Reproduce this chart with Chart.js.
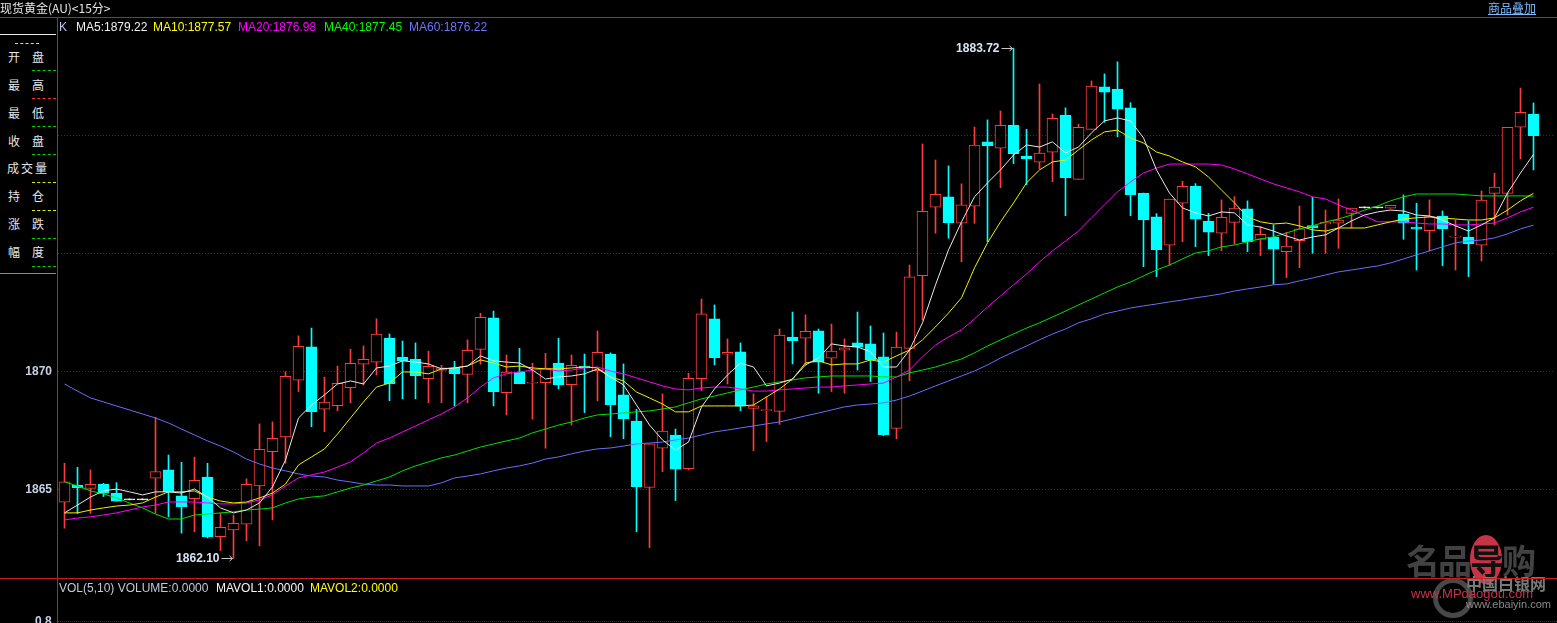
<!DOCTYPE html>
<html><head><meta charset="utf-8">
<script src="https://cdn.jsdelivr.net/npm/chart.js@4.4.1/dist/chart.umd.min.js"></script>
<style>
html,body{margin:0;padding:0;background:#000;}
body{width:1557px;height:623px;position:relative;overflow:hidden;font-family:"Liberation Sans",Arial,sans-serif;}
#c{position:absolute;left:0;top:0;}
.t{position:absolute;white-space:nowrap;font-size:12px;line-height:14px;}
.cjk{font-family:"Noto Sans CJK SC",sans-serif;}
.ln{position:absolute;}
.pc{position:absolute;font-family:"Noto Sans CJK SC",sans-serif;font-size:12px;line-height:14px;color:#e6e6e6;}
.sep{position:absolute;left:32px;width:24px;height:0;border-top:1px dashed;}
</style></head><body>
<canvas id="c" width="1557" height="623"></canvas>

<!-- watermark -->
<div class="t cjk" style="left:1406px;top:540px;font-size:34px;line-height:40px;color:#424242;font-weight:bold;letter-spacing:-2px">名品<span style="color:#111;background:#c83446;border-radius:50%;">导</span>购</div>
<div class="ln" style="left:1433px;top:578px;width:30px;height:30px;border:5px solid #484848;border-radius:50%;"></div>
<div class="t cjk" style="left:1466px;top:574px;font-size:16px;line-height:18px;color:#7a7a7a;font-weight:bold">中国白银网</div>
<div class="t" style="left:1411px;top:587px;font-size:13px;color:#c83446">www.MPdaogou.com</div>
<div class="t" style="left:1466px;top:597px;font-size:11px;color:#8a8a8a">www.ebaiyin.com</div>

<!-- frame lines -->
<div class="ln" style="left:0;top:17px;width:1557px;height:1px;background:#c41e1e"></div>
<div class="ln" style="left:0;top:578px;width:1557px;height:1px;background:#c41e1e"></div>
<div class="ln" style="left:57px;top:17px;width:1px;height:606px;background:#c41e1e"></div>
<div class="ln" style="left:58px;top:621px;width:1499px;height:0;border-top:1px dotted #a00000"></div>

<!-- header -->
<div class="t cjk" style="left:0;top:1px;color:#e6e6e6">现货黄金(AU)&lt;15分&gt;</div>
<div class="t cjk" style="left:1488px;top:1px;color:#7db8ff;text-decoration:underline">商品叠加</div>

<!-- legend -->
<div class="t" style="left:59px;top:20px;color:#c0c8e8">K</div>
<div class="t" style="left:76px;top:20px;color:#f0f0f0">MA5:1879.22</div>
<div class="t" style="left:153px;top:20px;color:#ffff00">MA10:1877.57</div>
<div class="t" style="left:238px;top:20px;color:#ff00ff">MA20:1876.98</div>
<div class="t" style="left:324px;top:20px;color:#00ff00">MA40:1877.45</div>
<div class="t" style="left:409px;top:20px;color:#7272ff">MA60:1876.22</div>

<!-- left info panel -->
<div class="ln" style="left:0;top:34px;width:57px;height:240px;background:#000"></div>
<div class="ln" style="left:0;top:34px;width:56px;height:1px;background:#e8e8e8"></div>
<div class="ln" style="left:15px;top:43px;width:24px;height:0;border-top:1px dashed #e8c8e0"></div>
<div class="ln" style="left:0;top:273px;width:56px;height:1px;background:#8a8a8a"></div>
<div class="pc" style="left:8px;top:50px">开</div><div class="pc" style="left:32px;top:50px">盘</div>
<div class="sep" style="top:70px;border-color:#00d000"></div>
<div class="pc" style="left:8px;top:78px">最</div><div class="pc" style="left:32px;top:78px">高</div>
<div class="sep" style="top:98px;border-color:#ff3030"></div>
<div class="pc" style="left:8px;top:106px">最</div><div class="pc" style="left:32px;top:106px">低</div>
<div class="sep" style="top:126px;border-color:#00d000"></div>
<div class="pc" style="left:8px;top:134px">收</div><div class="pc" style="left:32px;top:134px">盘</div>
<div class="sep" style="top:154px;border-color:#00d000"></div>
<div class="pc" style="left:7px;top:161px">成</div><div class="pc" style="left:21px;top:161px">交</div><div class="pc" style="left:35px;top:161px">量</div>
<div class="sep" style="top:182px;border-color:#e8e800"></div>
<div class="pc" style="left:8px;top:189px">持</div><div class="pc" style="left:32px;top:189px">仓</div>
<div class="sep" style="top:210px;border-color:#e8e800"></div>
<div class="pc" style="left:8px;top:217px">涨</div><div class="pc" style="left:32px;top:217px">跌</div>
<div class="sep" style="top:238px;border-color:#00d000"></div>
<div class="pc" style="left:8px;top:245px">幅</div><div class="pc" style="left:32px;top:245px">度</div>
<div class="sep" style="top:266px;border-color:#00d000"></div>

<!-- volume panel -->
<div class="t" style="left:59px;top:581px;color:#c0c8d8">VOL(5,10) VOLUME:0.0000</div>
<div class="t" style="left:216px;top:581px;color:#f4f4f4">MAVOL1:0.0000</div>
<div class="t" style="left:310px;top:581px;color:#ffff00">MAVOL2:0.0000</div>
<div class="t" style="left:35px;top:614px;color:#c8d0e6;font-weight:bold">0.8</div>

<script>
// ---------- data ----------
const categories = Array.from({length: 115}, (_, i) => (i < 114 ? 'K' + (i + 1) : ''));
const yTicks = [1865, 1870, 1875, 1880];

const opens = [1864.48,1865.21,1865.07,1865.25,1864.86,1864.58,1864.58,1865.50,1865.85,1864.75,
1864.63,1865.55,1863.02,1863.31,1863.55,1865.17,1866.62,1867.25,1869.65,1871.06,
1868.42,1868.57,1869.33,1870.33,1870.41,1871.44,1870.62,1870.54,1869.72,1870.08,
1870.16,1869.90,1870.96,1872.29,1869.12,1869.99,1869.52,1869.55,1870.38,1869.46,
1870.25,1870.06,1870.76,1869.03,1867.92,1865.11,1866.77,1867.33,1865.90,1869.72,
1872.25,1870.75,1870.85,1868.46,1868.36,1868.33,1871.48,1871.43,1871.74,1870.58,
1870.92,1871.23,1871.19,1870.64,1867.61,1871.00,1874.08,1876.98,1877.42,1876.30,
1877.02,1879.75,1879.48,1880.45,1879.15,1878.89,1879.31,1880.88,1878.16,1880.28,
1882.08,1881.99,1881.19,1877.58,1876.57,1875.37,1877.15,1877.87,1876.39,1875.88,
1876.34,1876.91,1875.62,1875.71,1875.10,1875.56,1876.20,1876.27,1876.30,1876.72,
1876.95,1876.95,1876.94,1876.68,1876.14,1875.99,1876.61,1875.71,1875.72,1875.37,
1877.57,1877.57,1880.37,1880.93];

const highs = [1866.13,1865.96,1865.85,1865.28,1865.31,1864.58,1864.58,1868.08,1866.48,1866.17,
1866.39,1866.13,1864.01,1863.94,1865.47,1867.80,1867.88,1870.01,1871.53,1871.86,
1869.78,1870.25,1870.96,1871.10,1872.25,1871.61,1871.31,1871.23,1870.88,1870.28,
1870.45,1871.36,1872.49,1872.58,1870.72,1871.00,1870.37,1870.79,1871.43,1870.72,
1870.76,1871.74,1870.81,1870.34,1868.42,1866.95,1869.07,1867.58,1869.94,1873.09,
1872.84,1871.40,1871.23,1869.07,1868.95,1871.82,1872.54,1872.42,1871.82,1872.03,
1871.40,1872.54,1871.95,1871.65,1871.69,1874.53,1879.66,1878.98,1878.73,1877.97,
1880.38,1880.68,1881.06,1883.72,1880.28,1882.20,1880.93,1881.19,1880.50,1882.33,
1882.63,1883.14,1881.41,1877.58,1876.71,1877.32,1878.08,1877.98,1876.72,1877.29,
1877.43,1877.25,1876.16,1876.23,1875.92,1877.03,1877.40,1876.86,1877.33,1876.94,
1876.95,1876.95,1877.06,1877.50,1877.15,1877.29,1876.82,1876.44,1876.40,1877.67,
1878.42,1880.37,1882.03,1881.40];

const lows = [1863.38,1864.01,1864.01,1864.72,1864.53,1864.58,1864.58,1864.01,1863.87,1863.17,
1863.23,1862.97,1862.43,1862.10,1862.85,1862.63,1863.73,1866.13,1869.17,1867.68,
1867.47,1868.36,1868.70,1869.45,1869.87,1868.78,1868.86,1868.86,1868.70,1868.70,
1868.56,1868.70,1870.33,1868.56,1868.18,1869.50,1868.00,1866.77,1869.28,1867.75,
1868.28,1868.78,1867.26,1867.17,1863.23,1862.56,1865.78,1864.55,1865.85,1869.21,
1870.30,1869.49,1868.36,1866.67,1867.05,1867.78,1870.34,1870.30,1869.10,1869.17,
1869.10,1870.08,1869.59,1867.30,1867.17,1869.63,1872.20,1875.88,1875.67,1874.67,
1876.30,1875.52,1877.81,1878.83,1877.94,1878.61,1878.06,1876.62,1878.16,1880.28,
1880.58,1879.97,1876.62,1874.46,1874.04,1874.52,1875.52,1875.31,1874.93,1875.14,
1875.42,1875.10,1874.93,1873.72,1874.00,1874.42,1875.03,1875.03,1875.24,1876.09,
1876.95,1876.95,1876.94,1875.62,1874.32,1875.14,1874.50,1874.32,1874.04,1874.70,
1876.23,1876.65,1879.03,1878.56];

const closes = [1865.35,1865.10,1865.24,1864.86,1864.53,1864.58,1864.58,1865.78,1864.93,1864.29,
1865.41,1863.02,1863.42,1863.59,1865.24,1866.72,1867.19,1869.82,1871.09,1868.32,
1868.72,1869.52,1870.37,1870.54,1871.60,1869.50,1870.48,1869.84,1870.24,1870.18,
1869.93,1870.92,1872.32,1869.17,1869.99,1869.50,1869.55,1870.16,1869.45,1870.28,
1870.17,1870.83,1868.61,1868.02,1865.14,1866.95,1867.49,1865.88,1869.73,1872.46,
1870.61,1870.83,1868.55,1868.57,1868.38,1871.56,1871.33,1871.72,1870.42,1870.88,
1871.02,1871.05,1870.51,1867.34,1871.05,1874.03,1876.81,1877.53,1876.33,1877.08,
1879.61,1879.59,1880.45,1879.25,1879.04,1879.27,1880.75,1878.23,1880.37,1882.11,
1881.85,1881.13,1877.51,1876.45,1875.18,1877.32,1877.87,1876.47,1875.92,1876.55,
1876.94,1875.52,1875.83,1875.20,1875.33,1876.06,1876.11,1876.34,1876.44,1876.94,
1876.95,1876.95,1877.06,1876.30,1876.05,1876.58,1876.07,1875.72,1875.44,1877.28,
1877.83,1880.37,1881.00,1880.01];

const ma5 = [1864.03,1864.36,1864.70,1864.96,1865.04,1864.92,1864.79,1864.92,1864.92,1864.87,
1865.04,1864.70,1864.24,1864.03,1864.15,1864.45,1865.13,1866.27,1868.05,1868.60,
1869.03,1869.49,1869.62,1869.49,1870.17,1870.25,1870.47,1870.42,1870.34,1870.13,
1870.17,1870.25,1870.68,1870.47,1870.42,1870.38,1870.08,1869.70,1869.79,1869.83,
1869.92,1870.13,1869.79,1869.45,1868.60,1867.75,1867.12,1866.69,1867.03,1868.52,
1869.28,1869.87,1870.38,1870.21,1869.41,1869.53,1869.70,1870.30,1870.59,1871.19,
1871.10,1871.06,1870.85,1870.21,1870.21,1870.93,1872.08,1873.69,1875.17,1876.36,
1877.42,1878.01,1878.56,1879.19,1879.62,1879.53,1879.75,1879.28,1879.53,1880.13,
1880.64,1880.76,1880.64,1879.92,1878.56,1877.58,1876.95,1876.74,1876.61,1876.78,
1876.74,1876.23,1876.14,1875.97,1875.76,1875.59,1875.72,1875.81,1876.10,1876.40,
1876.65,1876.78,1876.86,1876.82,1876.65,1876.61,1876.44,1876.19,1875.97,1876.23,
1876.53,1877.58,1878.43,1879.22];

const ma10 = [1864.03,1864.03,1864.15,1864.24,1864.32,1864.36,1864.45,1864.70,1864.92,1864.92,
1864.96,1864.70,1864.53,1864.45,1864.49,1864.66,1864.87,1865.25,1866.06,1866.40,
1866.74,1867.37,1868.05,1868.73,1869.36,1869.53,1870.00,1870.00,1869.92,1870.13,
1870.17,1870.25,1870.51,1870.38,1870.21,1870.25,1870.17,1870.13,1870.13,1870.17,
1870.21,1870.17,1869.79,1869.62,1869.15,1868.90,1868.64,1868.31,1868.31,1868.56,
1868.56,1868.56,1868.56,1868.60,1868.94,1869.28,1869.70,1870.38,1870.47,1870.30,
1870.34,1870.34,1870.51,1870.42,1870.68,1870.93,1871.36,1871.91,1872.50,1873.14,
1874.41,1875.47,1876.36,1877.16,1878.01,1878.56,1878.90,1878.98,1879.41,1879.83,
1880.17,1880.25,1879.92,1879.70,1879.32,1879.15,1878.90,1878.69,1878.26,1877.71,
1877.16,1876.57,1876.36,1876.27,1876.31,1876.19,1876.02,1875.97,1876.10,1876.10,
1876.10,1876.23,1876.36,1876.48,1876.53,1876.57,1876.53,1876.48,1876.44,1876.44,
1876.53,1876.86,1877.25,1877.57];

const ma20 = [1863.73,1863.81,1863.86,1863.94,1864.03,1864.15,1864.28,1864.36,1864.49,1864.49,
1864.49,1864.45,1864.41,1864.41,1864.45,1864.58,1864.79,1865.17,1865.51,1865.64,
1865.76,1865.97,1866.19,1866.57,1866.99,1867.20,1867.46,1867.71,1867.97,1868.22,
1868.52,1868.90,1869.36,1869.75,1869.92,1870.00,1870.08,1870.13,1870.04,1870.08,
1870.17,1870.21,1870.04,1869.92,1869.75,1869.58,1869.41,1869.28,1869.24,1869.32,
1869.36,1869.36,1869.28,1869.19,1869.19,1869.24,1869.28,1869.32,1869.36,1869.36,
1869.41,1869.45,1869.49,1869.53,1869.79,1870.08,1870.64,1871.14,1871.48,1871.78,
1872.25,1872.75,1873.22,1873.69,1874.15,1874.66,1875.13,1875.55,1875.97,1876.53,
1877.08,1877.63,1878.05,1878.43,1878.64,1878.81,1878.81,1878.81,1878.81,1878.77,
1878.60,1878.39,1878.18,1877.97,1877.80,1877.63,1877.42,1877.33,1877.08,1876.86,
1876.61,1876.36,1876.36,1876.36,1876.31,1876.27,1876.27,1876.23,1876.23,1876.27,
1876.31,1876.53,1876.78,1876.98];

const ma40 = [1865.34,1865.17,1864.96,1864.83,1864.66,1864.45,1864.24,1863.98,1863.77,1863.77,
1863.94,1863.98,1864.03,1864.07,1864.15,1864.19,1864.24,1864.45,1864.62,1864.70,
1864.75,1864.92,1865.08,1865.21,1865.38,1865.55,1865.81,1866.02,1866.19,1866.36,
1866.48,1866.65,1866.82,1866.95,1867.08,1867.20,1867.42,1867.58,1867.75,1867.88,
1868.05,1868.18,1868.22,1868.26,1868.31,1868.35,1868.43,1868.52,1868.69,1868.86,
1868.98,1869.11,1869.24,1869.36,1869.49,1869.58,1869.66,1869.75,1869.79,1869.83,
1869.83,1869.83,1869.83,1869.79,1869.79,1869.96,1870.08,1870.21,1870.38,1870.55,
1870.81,1871.10,1871.36,1871.61,1871.86,1872.08,1872.33,1872.58,1872.84,1873.09,
1873.35,1873.60,1873.81,1874.07,1874.32,1874.53,1874.79,1875.04,1875.13,1875.30,
1875.38,1875.51,1875.64,1875.72,1875.89,1876.06,1876.19,1876.36,1876.48,1876.65,
1876.86,1877.03,1877.25,1877.42,1877.54,1877.54,1877.54,1877.54,1877.50,1877.46,
1877.46,1877.46,1877.46,1877.45];

const ma60 = [1869.49,1869.19,1868.90,1868.73,1868.56,1868.39,1868.22,1868.05,1867.84,1867.58,
1867.33,1867.08,1866.86,1866.61,1866.31,1866.10,1865.93,1865.81,1865.68,1865.59,
1865.55,1865.42,1865.34,1865.25,1865.21,1865.21,1865.17,1865.17,1865.17,1865.30,
1865.51,1865.59,1865.68,1865.81,1865.93,1866.02,1866.14,1866.31,1866.40,1866.53,
1866.65,1866.74,1866.78,1866.86,1866.95,1866.99,1867.03,1867.12,1867.20,1867.33,
1867.46,1867.54,1867.63,1867.71,1867.80,1867.88,1868.01,1868.14,1868.26,1868.39,
1868.52,1868.60,1868.64,1868.69,1868.81,1868.98,1869.19,1869.41,1869.62,1869.83,
1870.04,1870.30,1870.59,1870.85,1871.10,1871.36,1871.61,1871.82,1872.08,1872.25,
1872.46,1872.58,1872.71,1872.80,1872.88,1872.97,1873.05,1873.14,1873.22,1873.31,
1873.43,1873.52,1873.60,1873.69,1873.73,1873.86,1873.98,1874.11,1874.24,1874.32,
1874.41,1874.49,1874.62,1874.79,1874.96,1875.13,1875.30,1875.47,1875.55,1875.59,
1875.68,1875.85,1876.06,1876.22];

// ---------- chart ----------
const UP = '#ff3c3c', DOWN = '#00ffff', FLAT = '#ffffff';
function kind(i) {
  if (opens[i] === closes[i] && highs[i] === lows[i]) return 'flat';
  return closes[i] >= opens[i] ? 'up' : 'down';
}
function lineColor(i) { const k = kind(i); return k === 'up' ? UP : k === 'down' ? DOWN : FLAT; }

const bodies = opens.map((o, i) => [o, closes[i]]);
const wicks = lows.map((l, i) => [l, highs[i]]);

const markPlugin = {
  id: 'marks',
  afterDatasetsDraw(chart) {
    const {ctx, scales: {x, y}} = chart;
    let hi = 0, lo = 0;
    highs.forEach((v, i) => { if (v > highs[hi]) hi = i; });
    lows.forEach((v, i) => { if (v < lows[lo]) lo = i; });
    [[hi, highs[hi]], [lo, lows[lo]]].forEach(([i, v]) => {
      const px = x.getPixelForValue(i);
      const py = Math.round(y.getPixelForValue(v)) + 0.5;
      ctx.save();
      ctx.font = 'bold 12px "Liberation Sans", Arial, sans-serif';
      ctx.fillStyle = '#d8e4f4';
      ctx.textAlign = 'right';
      ctx.textBaseline = 'middle';
      ctx.fillText(v.toFixed(2), px - 14, py);
      ctx.strokeStyle = '#c8c8c8';
      ctx.lineWidth = 1;
      ctx.beginPath();
      ctx.moveTo(px - 12, py); ctx.lineTo(px - 1, py);
      ctx.moveTo(px - 4, py - 2.5); ctx.lineTo(px - 1, py); ctx.lineTo(px - 4, py + 2.5);
      ctx.stroke();
      ctx.restore();
    });
  }
};

const lineDs = (label, data, color) => ({
  type: 'line', label, data, borderColor: color, borderWidth: 1,
  pointRadius: 0, tension: 0, fill: false, order: 1
});

new Chart(document.getElementById('c'), {
  type: 'bar',
  data: {
    labels: categories,
    datasets: [
      lineDs('MA5', ma5, '#e8e8e8'),
      lineDs('MA10', ma10, '#f0f000'),
      lineDs('MA20', ma20, '#ff00ff'),
      lineDs('MA40', ma40, '#00e000'),
      lineDs('MA60', ma60, '#6c6cff'),
      {
        label: 'body', data: bodies, grouped: false, order: 2,
        barThickness: 11, minBarLength: 1, borderWidth: 1, borderSkipped: false,
        backgroundColor: c => { const k = kind(c.dataIndex); return k === 'up' ? '#000000' : k === 'down' ? DOWN : FLAT; },
        borderColor: c => lineColor(c.dataIndex)
      },
      {
        label: 'wick', data: wicks, grouped: false, order: 3,
        barThickness: 1, minBarLength: 1, borderWidth: 0,
        backgroundColor: c => lineColor(c.dataIndex)
      }
    ]
  },
  options: {
    responsive: false,
    animation: false,
    devicePixelRatio: 1,
    layout: {padding: {top: 17, bottom: 45, left: 0, right: 4}},
    plugins: {legend: {display: false}, tooltip: {enabled: false}},
    scales: {
      x: {display: false, offset: true, grid: {display: false}},
      y: {
        min: 1861.27, max: 1885.04,
        afterFit(s) { s.width = 58; },
        afterBuildTicks(s) { s.ticks = yTicks.map(v => ({value: v})); },
        grid: {color: '#a80000', drawTicks: false, lineWidth: 1},
        border: {display: false, dash: [1, 2]},
        ticks: {
          color: '#c8d0e6', padding: 6,
          font: {family: '"Liberation Sans", Arial, sans-serif', size: 12, weight: 'bold'},
          callback: v => String(v)
        }
      }
    }
  },
  plugins: [markPlugin]
});
</script>
</body></html>
